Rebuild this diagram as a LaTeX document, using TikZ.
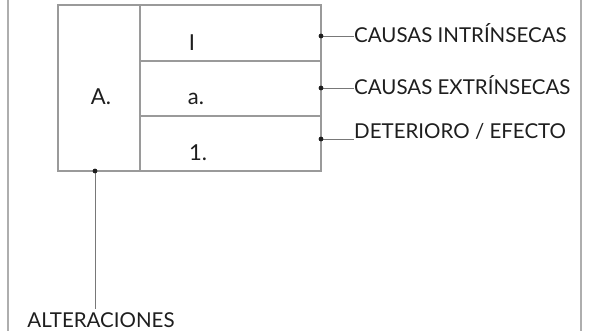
\documentclass[tikz,border=0pt]{standalone}
\usepackage{fontspec}
\setmainfont{Lato}
\usepackage{xcolor}
\usepackage{tikz}
\usetikzlibrary{positioning,calc}
\definecolor{rule}{HTML}{9A9A9A}
\definecolor{ink}{HTML}{1E1E1E}

\begin{document}
\begin{tikzpicture}[x=1pt,y=-1pt,
  cell/.style={draw=rule,line width=1.4pt},
  lead/.style={draw=ink!60,line width=0.9pt},
  tag/.style={text=ink,font=\fontsize{20.5}{24}\selectfont,inner sep=0pt},
  celltext/.style={text=ink,font=\fontsize{22}{26}\selectfont,inner sep=0pt}]
\useasboundingbox (0,0) rectangle (589,331);
\draw[cell,rule!80] (8,0) -- (8,331);
\draw[cell,rule!80] (581,0) -- (581,331);
% table
\draw[cell] (58,5) rectangle (321,171);
\draw[cell] (140,5) -- (140,171);
\draw[cell] (140,61) -- (321,61);
\draw[cell] (140,116) -- (321,116);
\node[celltext] (gA) at (101,97) {A.};
\node[celltext] (gI) at (192,43) {I};
\node[celltext] (ga) at (196,99) {a.};
\node[celltext] (g1) at (198,153) {1.};
% connector points
\coordinate (d1) at (321,36);
\coordinate (d2) at (321,88);
\coordinate (d3) at (321,139);
\coordinate (d4) at (95,171);
\node[tag,anchor=west] (t1) at (354,33) {CAUSAS INTRÍNSECAS};
\node[tag,anchor=west] (t2) at (354,85) {CAUSAS EXTRÍNSECAS};
\node[tag,anchor=west] (t3) at (354,131) {DETERIORO / EFECTO};
\node[tag] (alt) at (101,320) {ALTERACIONES};
\draw[lead] (d1) -- (t1.west |- d1);
\draw[lead] (d2) -- (t2.west |- d2);
\draw[lead] (d3) -- (t3.west |- d3);
\draw[lead] (d4) -- ($(d4 |- alt.north)+(0,-3)$);
\foreach \p in {d1,d2,d3,d4}
  \fill[ink] (\p) circle (2.4pt);
\end{tikzpicture}
\end{document}
